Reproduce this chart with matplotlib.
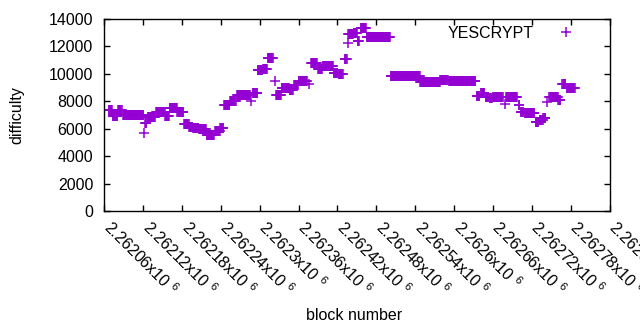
import numpy as np
import matplotlib
matplotlib.use("Agg")
import matplotlib.pyplot as plt
import matplotlib.transforms as mtransforms

plt.rcParams['font.family'] = ['Liberation Sans', 'DejaVu Sans']
plt.rcParams['mathtext.fontset'] = 'custom'
plt.rcParams['mathtext.rm'] = 'Liberation Sans'
plt.rcParams['mathtext.it'] = 'Liberation Sans'
plt.rcParams['mathtext.default'] = 'regular'

# ---- data: runs of constant difficulty (block start, block end, value) ----
run_start = [2262067, 2262073, 2262081, 2262089, 2262121, 2262123, 2262127, 2262140,
             2262154, 2262161, 2262173, 2262183, 2262191, 2262197, 2262206, 2262218,
             2262231, 2262239, 2262245, 2262254, 2262265, 2262286, 2262289, 2262297,
             2262305, 2262312, 2262323, 2262325, 2262334, 2262346, 2262353, 2262360,
             2262376, 2262379, 2262390, 2262397, 2262414, 2262422, 2262431, 2262436,
             2262437, 2262445, 2262451, 2262456, 2262465, 2262502, 2262548, 2262579,
             2262592, 2262635, 2262641, 2262649, 2262655, 2262660, 2262678, 2262680,
             2262700, 2262703, 2262709, 2262726, 2262732, 2262738, 2262744, 2262747,
             2262761, 2262767, 2262774]
run_end = [2262072, 2262080, 2262087, 2262120, 2262121, 2262125, 2262138, 2262153,
           2262160, 2262172, 2262182, 2262190, 2262196, 2262205, 2262217, 2262229,
           2262238, 2262244, 2262253, 2262263, 2262285, 2262286, 2262296, 2262304,
           2262311, 2262320, 2262323, 2262333, 2262345, 2262351, 2262359, 2262373,
           2262376, 2262388, 2262396, 2262413, 2262420, 2262428, 2262434, 2262436,
           2262444, 2262450, 2262453, 2262464, 2262501, 2262547, 2262578, 2262590,
           2262633, 2262639, 2262647, 2262653, 2262658, 2262675, 2262678, 2262697,
           2262701, 2262707, 2262724, 2262730, 2262737, 2262741, 2262744, 2262760,
           2262764, 2262772, 2262786]
run_value = [7350, 6900, 7350, 7000, 5700, 6400, 6830, 7200,
             6950, 7480, 7220, 6340, 6150, 6030, 5960, 5570,
             5860, 6030, 7700, 8000, 8460, 8050, 8630, 10250,
             10350, 11150, 9480, 8460, 8950, 8820, 9200, 9500,
             9250, 10770, 10330, 10550, 10050, 9960, 11060, 12230,
             12880, 12950, 12400, 13320, 12660, 9830, 9380, 9550,
             9450, 8380, 8620, 8330, 8220, 8290, 7800, 8290,
             7730, 7250, 7120, 6480, 6640, 6760, 7930, 8330,
             8100, 9240, 8950]

xtick_values = [2262060, 2262120, 2262180, 2262240, 2262300, 2262360, 2262420,
                2262480, 2262540, 2262600, 2262660, 2262720, 2262780, 2262840]
xtick_labels = ['2.26206x10 $^{6}$', '2.26212x10 $^{6}$', '2.26218x10 $^{6}$',
                '2.26224x10 $^{6}$', '2.2623x10 $^{6}$', '2.26236x10 $^{6}$',
                '2.26242x10 $^{6}$', '2.26248x10 $^{6}$', '2.26254x10 $^{6}$',
                '2.2626x10 $^{6}$', '2.26266x10 $^{6}$', '2.26272x10 $^{6}$',
                '2.26278x10 $^{6}$', '2.26284x10 $^{6}$']
ytick_values = [0, 2000, 4000, 6000, 8000, 10000, 12000, 14000]
series_name = 'YESCRYPT'

# expand runs into one point per block
blocks = np.concatenate([np.arange(s, e + 1) for s, e in zip(run_start, run_end)])
values = np.concatenate([np.full(e - s + 1, v) for s, e, v in zip(run_start, run_end, run_value)])

FS = 11.5
fig = plt.figure(figsize=(6.4, 3.3), dpi=100)
ax = fig.add_axes([104.3 / 640, 1 - 211 / 330, (609.5 - 104.3) / 640, (211 - 19) / 330])

color = '#9400D3'
ax.plot(blocks, values, linestyle='none', marker='+', markersize=7, markeredgewidth=1.1,
        color=color, label=series_name)

ax.set_xlim(xtick_values[0], xtick_values[-1])
ax.set_ylim(0, 14000)
ax.set_xticks(xtick_values)
ax.set_xticklabels(xtick_labels, rotation=-45, ha='left', va='top',
                   rotation_mode='anchor', fontsize=FS)
ax.set_yticks(ytick_values)
ax.set_yticklabels([str(v) for v in ytick_values], fontsize=FS)
ax.tick_params(direction='in', length=4.5, width=1, top=True, right=True, colors='black')
ax.tick_params(axis='x', pad=8)
ax.tick_params(axis='y', pad=8)
for sp in ax.spines.values():
    sp.set_linewidth(1)

offset = mtransforms.ScaledTranslation(9 / 100, 5 / 100, fig.dpi_scale_trans)
for lab in ax.get_xticklabels():
    lab.set_transform(lab.get_transform() + offset)

ax.set_xlabel('block number', fontsize=FS)
ax.set_ylabel('difficulty', fontsize=FS)
ax.xaxis.set_label_coords(354 / 640, 1 - 316 / 330, transform=fig.transFigure)
ax.xaxis.label.set_verticalalignment('center')
ax.yaxis.set_label_coords(17 / 640, 1 - 115 / 330, transform=fig.transFigure)
ax.yaxis.label.set_verticalalignment('center')

leg = ax.legend(loc='upper right', markerfirst=False, frameon=False, fontsize=FS,
                handlelength=2.0, handletextpad=1.05, borderpad=0, borderaxespad=0,
                bbox_to_anchor=((582 - 104.3) / 505.2, (211 - 26) / 192))

fig.savefig('out.png', dpi=100)
